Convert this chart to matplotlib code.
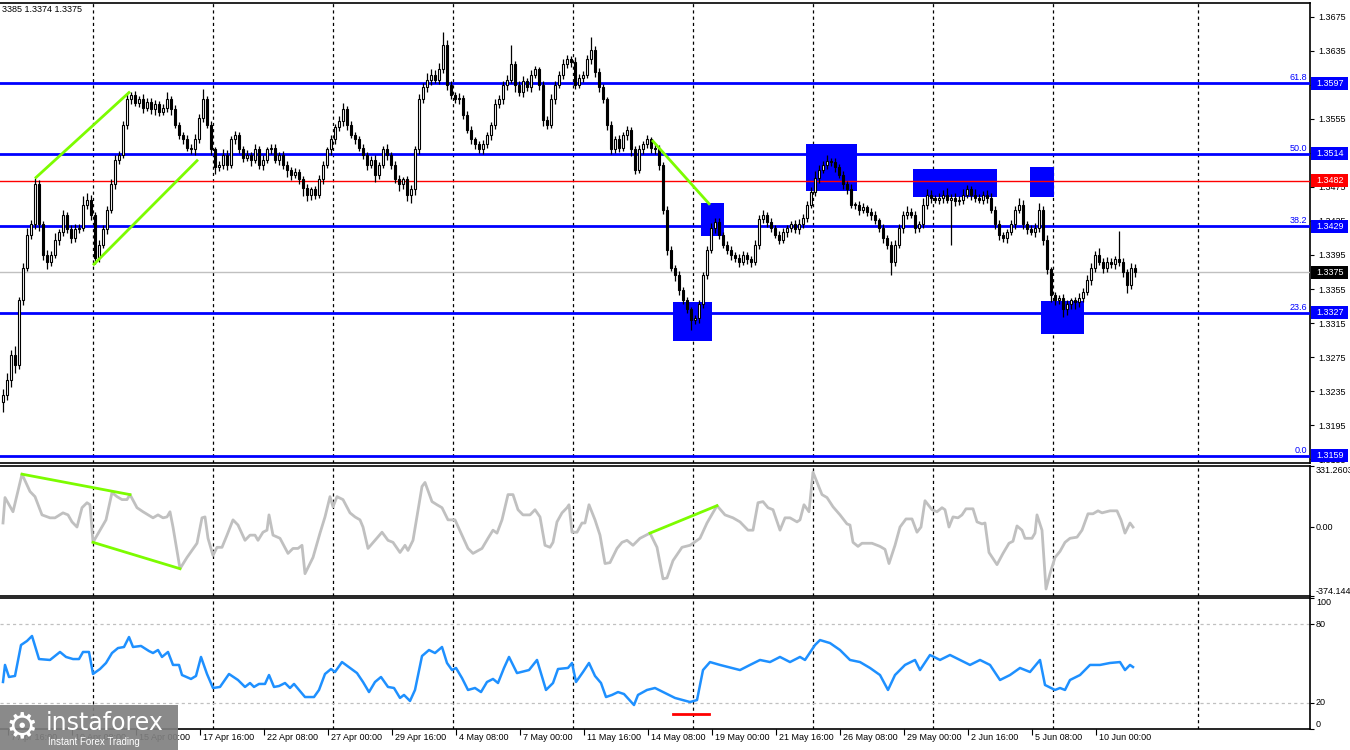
import matplotlib
matplotlib.use('Agg')
import matplotlib.pyplot as plt
from matplotlib.patches import Rectangle
from matplotlib.transforms import blended_transform_factory as btf, offset_copy
import numpy as np

plt.rcParams['font.family'] = ['Liberation Sans', 'DejaVu Sans']

# ---------------- data (prices in pips, 4H candles) ----------------
first_open = 13222
closes_pips = [
    13231, 13248, 13278, 13266, 13342, 13380, 13419, 13431, 13478, 13431,
    13395, 13387, 13395, 13413, 13422, 13442, 13425, 13415, 13425, 13427,
    13454, 13460, 13442, 13392, 13407, 13425, 13448, 13478, 13507, 13513,
    13548, 13578, 13583, 13574, 13578, 13568, 13575, 13566, 13572, 13563,
    13568, 13578, 13566, 13548, 13536, 13531, 13521, 13519, 13531, 13556,
    13578, 13548, 13519, 13498, 13501, 13513, 13501, 13531, 13536, 13519,
    13509, 13513, 13507, 13519, 13501, 13507, 13519, 13521, 13507, 13513,
    13501, 13495, 13489, 13493, 13484, 13474, 13466, 13472, 13466, 13484,
    13501, 13519, 13531, 13545, 13552, 13566, 13548, 13536, 13531, 13521,
    13513, 13501, 13507, 13489, 13501, 13519, 13513, 13501, 13484, 13478,
    13484, 13466, 13472, 13519, 13578, 13592, 13601, 13607, 13601, 13613,
    13642, 13595, 13583, 13578, 13580, 13560, 13542, 13531, 13525, 13519,
    13525, 13536, 13548, 13572, 13578, 13595, 13601, 13619, 13595, 13587,
    13599, 13592, 13607, 13613, 13595, 13554, 13548, 13578, 13595, 13607,
    13619, 13625, 13622, 13595, 13603, 13607, 13625, 13636, 13610, 13592,
    13578, 13548, 13519, 13531, 13521, 13536, 13542, 13519, 13495, 13519,
    13525, 13531, 13521, 13519, 13501, 13448, 13401, 13380, 13372, 13354,
    13342, 13331, 13319, 13321, 13337, 13372, 13401, 13427, 13434, 13419,
    13407, 13401, 13395, 13392, 13387, 13395, 13390, 13387, 13407, 13437,
    13442, 13434, 13427, 13419, 13413, 13422, 13427, 13431, 13425, 13431,
    13439, 13454, 13469, 13486, 13495, 13501, 13505, 13504, 13498, 13489,
    13478, 13472, 13454, 13454, 13448, 13451, 13446, 13442, 13436, 13427,
    13415, 13407, 13387, 13407, 13427, 13442, 13446, 13442, 13427, 13431,
    13454, 13466, 13462, 13460, 13462, 13466, 13460, 13462, 13458, 13460,
    13466, 13472, 13466, 13462, 13460, 13466, 13462, 13448, 13431, 13419,
    13415, 13422, 13431, 13448, 13454, 13431, 13425, 13422, 13427, 13448,
    13413, 13378, 13348, 13342, 13345, 13331, 13337, 13342, 13340, 13345,
    13352, 13366, 13380, 13395, 13387, 13380, 13387, 13384, 13390, 13387,
    13375, 13360, 13380, 13375,
]
# wick extension beyond the body (pips)
hi_ext = [
    6, 8, 5, 10, 4, 6, 8, 5, 8, 5,
    4, 6, 5, 8, 4, 6, 4, 5, 6, 4,
    10, 8, 5, 4, 6, 5, 4, 6, 5, 4,
    5, 6, 4, 5, 4, 6, 5, 4, 5, 4,
    5, 8, 4, 5, 3, 4, 5, 4, 6, 5,
    12, 4, 5, 3, 4, 6, 5, 4, 5, 3,
    4, 5, 3, 6, 4, 5, 3, 4, 5, 3,
    4, 5, 3, 4, 3, 4, 5, 3, 4, 5,
    4, 3, 5, 4, 6, 8, 4, 5, 3, 4,
    5, 3, 4, 5, 3, 4, 6, 3, 4, 5,
    3, 4, 5, 4, 6, 5, 8, 6, 5, 8,
    15, 6, 5, 4, 5, 3, 4, 5, 3, 4,
    5, 4, 3, 6, 5, 4, 5, 23, 4, 5,
    6, 4, 5, 4, 3, 5, 4, 6, 5, 4,
    6, 5, 4, 6, 5, 4, 5, 15, 4, 5,
    4, 3, 5, 4, 5, 4, 5, 3, 4, 5,
    4, 5, 3, 4, 5, 3, 4, 5, 3, 4,
    3, 4, 3, 4, 5, 3, 4, 6, 5, 4,
    3, 4, 5, 3, 4, 5, 3, 4, 6, 5,
    6, 4, 5, 3, 4, 5, 3, 4, 5, 6,
    4, 5, 6, 8, 6, 5, 8, 4, 5, 4,
    5, 4, 6, 3, 4, 5, 3, 4, 5, 3,
    4, 3, 5, 6, 4, 5, 6, 4, 5, 4,
    8, 6, 5, 4, 6, 5, 8, 5, 6, 4,
    6, 5, 4, 6, 5, 4, 5, 6, 4, 5,
    3, 4, 5, 4, 8, 6, 4, 5, 6, 8,
    4, 5, 3, 4, 3, 4, 5, 3, 4, 5,
    4, 5, 6, 5, 8, 4, 6, 5, 4, 33,
    5, 4, 6, 4,
]
lo_ext = [
    12, 6, 8, 10, 5, 6, 4, 5, 6, 8,
    6, 8, 5, 4, 6, 5, 4, 6, 5, 4,
    4, 5, 6, 8, 5, 4, 5, 4, 6, 5,
    4, 5, 6, 4, 5, 6, 4, 5, 6, 5,
    4, 5, 6, 4, 5, 6, 4, 5, 6, 4,
    5, 4, 6, 8, 4, 5, 6, 4, 5, 4,
    5, 4, 8, 4, 5, 6, 4, 5, 4, 6,
    5, 8, 6, 4, 5, 10, 8, 6, 5, 4,
    5, 4, 6, 5, 4, 5, 6, 4, 5, 4,
    5, 6, 4, 8, 5, 4, 6, 5, 4, 8,
    6, 8, 10, 6, 5, 4, 5, 6, 4, 5,
    4, 6, 5, 4, 6, 5, 4, 5, 6, 4,
    5, 4, 6, 5, 4, 5, 6, 4, 8, 5,
    6, 4, 5, 4, 6, 8, 5, 4, 5, 4,
    5, 4, 6, 5, 4, 5, 4, 5, 6, 5,
    4, 6, 5, 4, 5, 4, 6, 8, 5, 4,
    5, 4, 6, 5, 6, 5, 6, 4, 8, 6,
    5, 4, 12, 5, 6, 4, 5, 4, 6, 5,
    4, 5, 6, 5, 6, 4, 5, 6, 4, 5,
    4, 6, 5, 4, 5, 4, 6, 5, 4, 5,
    4, 5, 4, 5, 6, 4, 5, 4, 5, 4,
    6, 5, 4, 5, 6, 4, 5, 6, 4, 5,
    6, 5, 15, 5, 4, 6, 5, 4, 6, 5,
    4, 5, 6, 4, 5, 6, 4, 53, 5, 4,
    5, 4, 6, 5, 4, 5, 6, 4, 5, 6,
    5, 6, 4, 5, 4, 6, 5, 4, 6, 5,
    6, 5, 8, 6, 5, 9, 6, 5, 8, 6,
    5, 4, 6, 5, 4, 6, 5, 4, 6, 5,
    6, 10, 5, 6,
]

# CCI (candle index, value)
cci_t = [0, 0.5, 2.5, 4.75, 6.75, 8, 9.75, 11.75, 13, 15, 16.25, 17.25, 18.5, 19.75, 21, 21.75, 22.5,
         24.25, 25.75, 27.25, 28.5, 29.75, 31, 31.75, 33.5, 35, 37.5, 38.75, 40, 41, 41.75, 42.5, 44.25,
         46, 48.5, 49.75, 50.5, 51.25, 52.5, 53.5, 54.75, 56, 57.5, 58.75, 60.5, 61.75, 63, 63.75, 65, 66,
         66.5, 67.5, 69.25, 71.25, 72.5, 73.75, 74.75, 75.5, 77.5, 79.25, 80.5, 81.75, 82.5, 83.5, 85,
         86.75, 88, 89.25, 90, 91.25, 93, 94.75, 96.25, 97.5, 99.25, 100.5, 101.25, 102.5, 104.75, 105.5,
         107.25, 108.5, 109.75, 111.25, 113, 114.75, 116.25, 117.5, 119.75, 121.25, 122.5, 123.5, 124.75,
         126.25, 127.5, 128.75, 130, 131.75, 133, 134.25, 135.5, 136.75, 137.5, 138.5, 139.75, 141, 141.5,
         142.25, 143.5, 144.75, 145.5, 146.5, 148, 149.25, 150.5, 151.75, 153.5, 154.75, 156, 157.5, 159.25,
         161.75, 163.5, 165, 166, 167.5, 169.75, 171.75, 172.5, 174.25, 176, 178.5, 180.5, 182.5, 184.25,
         186.25, 187.5, 188.75, 190, 191.25, 192.5, 194.25, 195.5, 196.75, 198.5, 199.25, 200.25, 201.5,
         202.5, 204.75, 206, 207.5, 209.25, 211, 211.75, 212.5, 213.75, 214.75, 217.25, 219.25, 220.5,
         221.5, 223, 224.25, 225.75, 227.25, 228.5, 229.5, 230.5, 232.25, 233.5, 234.75, 235.5, 236.5,
         237.5, 238.75, 239.75, 240.75, 242.5, 243.5, 244.75, 245.5, 246.5, 248.5, 250, 251.5, 252.5,
         253.5, 254.75, 255.5, 257.25, 258, 258.5, 259.75, 260.75, 261.75, 263, 264.25, 265.5, 266.75,
         268.5, 269.75, 271.25, 272.5, 273.75, 274.75, 276.75, 278.5, 279.5, 280.5, 281.75, 282.5]
cci_v = [22, 160, 83, 287, 193, 165, 66, 50, 50, 77, 66, 28, 0, 105, 132, 121, -83,
         -17, 39, 187, 165, 149, 149, 176, 105, 83, 50, 66, 50, 55, 83, 0, -226,
         -165, -88, 50, 55, -61, -154, -110, -110, -44, 39, 11, -72, -44, -44, -72, -28, -17,
         66, -44, -61, -143, -116, -116, -99, -253, -165, -33, 55, 165, 110, 165, 149,
         77, 55, 39, 0, -116, -72, -28, -72, -83, -138, -99, -127, -72, 220, 242,
         138, 121, 105, 39, 39, -44, -116, -143, -116, -61, -17, -33, 39,
         176, 176, 94, 66, 66, 94, 55, -99, -110, -83, 28, 77, 105, 121,
         -28, -28, 22, 22, 121, 39, -44, -198, -193, -116, -83, -72, -99, -61,
         -33, -110, -281, -276, -182, -110, -99, -88, -61, 22, 116, 66, 50, 28,
         -17, -17, 132, 138, 105, 94, -17, 50, 50, 28, 39, 121, 83,
         298, 176, 160, 110, 66, 17, 11, -83, -105, -88, -88, -105, -121,
         -198, -99, 0, 44, 44, -28, 0, 143, 94, 83, 105, 94, 0,
         55, 50, 66, 99, 99, 28, 17, 22, -138, -204, -143, -88, -77,
         6, -17, -61, -61, -33, 66, -17, -336, -253, -165, -132, -83, -61,
         -55, -17, 72, 72, 88, 77, 88, 88, 39, -33, 22, 0]

# RSI (candle index, value)
rsi_t = [0, 0.5, 1.5, 3, 4.5, 6, 7.25, 9, 11.75, 14.25, 15.75, 17.5, 19, 20, 21.5, 22.5, 24.25, 25.75,
         27.25, 28.75, 30.25, 31.5, 32.5, 34.5, 36.5, 37.5, 38.75, 39.75, 41.25, 42.5, 44, 44.75, 47,
         48.25, 49.5, 51, 52.5, 54.25, 56.5, 58.75, 60.5, 61.75, 62.75, 64, 65.5, 66.5, 67.75, 69, 70.5,
         71.75, 72.75, 74, 75.5, 77.75, 79, 80.5, 82, 83, 84.75, 86.75, 88.5, 90, 91.5, 93, 94.5, 96.25,
         97.75, 99.25, 100.25, 101.75, 103, 104.75, 106.5, 108, 109.75, 111, 112.25, 113.25, 114.75,
         116.25, 118, 119.5, 121, 122.5, 123.75, 125.25, 126.5, 128.5, 131.5, 133.5, 135.75, 137.5,
         138.75, 141.25, 142.25, 143.25, 145, 146.5, 148, 149.5, 150.75, 152.25, 153.75, 155.25, 157.75,
         158.75, 161, 163, 165.5, 168, 171.75, 173.5, 175, 176.75, 179.25, 184.25, 186.75, 189.25,
         191.75, 194.25, 196.75, 199.25, 200.5, 203, 204.25, 206.75, 209.25, 211.75, 214.25, 216.75,
         219.25, 221.25, 223, 225.5, 228, 229.25, 231.75, 234.25, 236.75, 239.25, 241.75, 244.25,
         246.75, 249.25, 251.75, 254.25, 256.75, 259.25, 260.5, 263, 264.25, 265.5, 266.75, 269.25,
         271.75, 274.25, 276.75, 279.25, 280.5, 281.75, 282.5]
rsi_v = [35.9, 48.9, 39.7, 40.5, 64.1, 67.2, 71.0, 53.4, 52.7, 58.8, 55.0, 53.4, 53.4, 58.8, 58.8, 42.0,
         45.8, 50.4, 58.0, 61.8, 62.6, 70.2, 62.6, 63.4, 59.5, 58.0, 60.3, 55.0, 58.8, 48.9, 48.9, 41.2,
         38.2, 40.5, 55.0, 42.0, 31.3, 32.1, 42.0, 37.4, 32.1, 35.1, 32.1, 34.4, 34.4, 41.2, 32.1, 32.8,
         35.1, 31.3, 34.4, 29.8, 24.4, 24.4, 29.8, 42.0, 45.8, 43.5, 51.1, 46.6, 42.7, 35.9, 28.2, 35.9,
         39.7, 32.1, 31.3, 23.7, 26.0, 21.4, 29.8, 55.7, 60.3, 58.0, 62.6, 50.4, 45.0, 46.6, 38.9, 29.8,
         31.3, 28.2, 35.9, 38.2, 35.1, 46.6, 55.0, 42.7, 45.0, 52.7, 29.8, 35.1, 45.8, 46.6, 50.4, 35.9,
         43.5, 50.4, 40.5, 35.1, 24.4, 26.0, 28.2, 26.7, 18.3, 26.0, 29.8, 31.3, 27.5, 23.7, 20.6, 22.1,
         45.0, 51.1, 48.9, 45.0, 48.9, 52.7, 51.1, 55.0, 51.1, 55.0, 52.7, 64.1, 67.9, 65.6, 60.3, 52.7,
         51.1, 46.6, 41.2, 29.8, 41.2, 48.9, 52.7, 45.0, 56.5, 52.7, 56.5, 52.7, 48.9, 52.7, 48.9, 37.4,
         41.2, 46.6, 43.5, 52.7, 33.6, 29.8, 31.3, 29.8, 37.4, 41.2, 48.9, 48.9, 50.4, 51.1, 45.0, 48.9,
         47.3]

price_ticks = [1.3675, 1.3635, 1.3595, 1.3555, 1.3515, 1.3475, 1.3435, 1.3395, 1.3355,
               1.3315, 1.3275, 1.3235, 1.3195, 1.3155]
fib_levels = [1.3597, 1.3514, 1.3429, 1.3327, 1.3159]
fib_names = ['61.8', '50.0', '38.2', '23.6', '0.0']
red_level = 1.3482
last_price = 1.3375
cci_max, cci_min = 331.2603, -374.1446

x_labels = ['7 Apr 16:00', '10 Apr 08:00', '15 Apr 00:00', '17 Apr 16:00', '22 Apr 08:00',
            '27 Apr 00:00', '29 Apr 16:00', '4 May 08:00', '7 May 00:00', '11 May 16:00',
            '14 May 08:00', '19 May 00:00', '21 May 16:00', '26 May 08:00', '29 May 00:00',
            '2 Jun 16:00', '5 Jun 08:00', '10 Jun 00:00']
x_label_idx = [1.25 + 16 * k for k in range(len(x_labels))]
separators = [22.5, 52.5, 82.5, 112.5, 142.5, 172.5, 202.5, 232.5, 262.5, 298.75]

# annotation zones (t0, t1, price_lo, price_hi)
zones = [(174.5, 180.25, 1.3417, 1.3456), (167.5, 177.25, 1.3294, 1.3340),
         (200.75, 213.5, 1.3470, 1.3525), (227.5, 248.5, 1.3463, 1.3496),
         (256.75, 262.75, 1.3463, 1.3498), (259.5, 270.25, 1.3302, 1.3341)]
price_div = [((8, 1.3485), (31.75, 1.3587)), ((22.5, 1.3383), (48.75, 1.3507)),
             ((162.25, 1.3530), (176.75, 1.3454))]
cci_div = [((4.75, 287), (31.75, 176)), ((22.5, -83), (44.25, -226)),
           ((161.75, -33), (178.5, 116))]
rsi_mark = ((167.5, 176.5), 11.5)

# ---------------- figure ----------------
W, H = 1350, 750
fig = plt.figure(figsize=(W / 100, H / 100), dpi=100)
R = 1310


def add_ax(top, bottom):
    return fig.add_axes([0, 1 - bottom / H, R / W, (bottom - top) / H])


ax1 = add_ax(3, 463)
ax2 = add_ax(466, 596)
ax3 = add_ax(598, 729)

xmin, xmax = -0.75, (R - 3) / 4
FS = 6.5

for ax in (ax1, ax2, ax3):
    ax.set_xlim(xmin, xmax)
    ax.spines['left'].set_visible(False)
    for s in ('top', 'right', 'bottom'):
        ax.spines[s].set_linewidth(1.2)
        ax.spines[s].set_color('black')
    ax.yaxis.tick_right()
    ax.tick_params(axis='y', length=3, width=0.8, labelsize=FS, pad=3, colors='black')
    ax.set_xticks([])
    for s in separators:
        ax.axvline(s, color='black', lw=0.9, ls=(0, (2.5, 2.5)), zorder=1)

# ---- main price panel ----
n = min(len(closes_pips), len(hi_ext), len(lo_ext))
c = np.array(closes_pips[:n], dtype=float) / 10000
o = np.array([first_open] + closes_pips[:n - 1], dtype=float) / 10000
hi = np.maximum(o, c) + np.array(hi_ext[:n]) / 10000
lo = np.minimum(o, c) - np.array(lo_ext[:n]) / 10000
t = np.arange(n)

ax1.set_ylim(1.31506, 1.36911)
ax1.set_yticks(price_ticks)
ax1.set_yticklabels([f'{p:.4f}' for p in price_ticks])

for (t0, t1, p0, p1) in zones:
    ax1.add_patch(Rectangle((t0, p0), t1 - t0, p1 - p0, fc='#0000FF', ec='none', zorder=2))

for lvl in fib_levels:
    ax1.axhline(lvl, color='#0000FF', lw=2, zorder=3)
ax1.axhline(red_level, color='#FF0000', lw=1, zorder=3)
ax1.axhline(last_price, color='#C0C0C0', lw=1, zorder=3)

ax1.vlines(t, lo, hi, color='black', lw=0.9, zorder=4)
bull = c >= o
body_h = np.abs(c - o)
body_h = np.where(body_h < 0.00004, 0.00004, body_h)
ax1.bar(t, body_h, bottom=np.minimum(o, c), width=0.72,
        color=np.where(bull, 'white', 'black'), edgecolor='black', linewidth=0.8, zorder=5)

for (a, b) in price_div:
    ax1.plot([a[0], b[0]], [a[1], b[1]], color='#7CFC00', lw=2, zorder=6, solid_capstyle='butt')

tr_lbl = btf(ax1.transAxes, ax1.transData)
for lvl, name in zip(fib_levels, fib_names):
    ax1.text(1.0, lvl, name, transform=offset_copy(tr_lbl, fig=fig, x=-3, y=1, units='dots'),
             ha='right', va='bottom', fontsize=FS, color='#0000FF', zorder=7)

px = 0.0001175  # price per pixel


def tag(ax, y, s, fc, hpx):
    trb = btf(ax.transAxes, ax.transData)
    ax.add_patch(Rectangle((1311 / R, y - hpx / 2), 37 / R, hpx, transform=trb, fc=fc, ec='none',
                           clip_on=False, zorder=9))
    ax.text(1.0, y, s, transform=offset_copy(trb, fig=fig, x=6, y=0, units='dots'),
            ha='left', va='center', fontsize=FS, color='white', clip_on=False, zorder=10)


for lvl in fib_levels:
    tag(ax1, lvl, f'{lvl:.4f}', '#0000FF', 13 * px)
tag(ax1, red_level, f'{red_level:.4f}', '#FF0000', 13 * px)
tag(ax1, last_price, f'{last_price:.4f}', '#000000', 13 * px)

# ---- CCI panel ----
ax2.set_ylim(cci_min, cci_max)
ax2.set_yticks([cci_max, 0, cci_min])
ax2.set_yticklabels(['', '', ''])
ax2.plot(cci_t, cci_v, color='#C0C0C0', lw=2, zorder=4)
for (a, b) in cci_div:
    ax2.plot([a[0], b[0]], [a[1], b[1]], color='#7CFC00', lw=2, zorder=6)
tr2 = offset_copy(btf(ax2.transAxes, ax2.transData), fig=fig, x=6, y=0, units='dots')
ax2.text(1.0, cci_max, f'{cci_max:.4f}', transform=tr2, ha='left', va='top', fontsize=FS, clip_on=False)
ax2.text(1.0, 0, '0.00', transform=tr2, ha='left', va='center', fontsize=FS, clip_on=False)
ax2.text(1.0, cci_min, f'{cci_min:.4f}', transform=tr2, ha='left', va='bottom', fontsize=FS, clip_on=False)

# ---- RSI panel ----
ax3.set_ylim(0, 100)
ax3.set_yticks([100, 80, 20, 0])
ax3.set_yticklabels(['', '', '', ''])
for lv in (80, 20):
    ax3.axhline(lv, color='#C0C0C0', lw=0.9, ls=(0, (2.5, 2.5)), zorder=2)
ax3.plot(rsi_t, rsi_v, color='#1E90FF', lw=1.8, zorder=4)
ax3.plot(list(rsi_mark[0]), [rsi_mark[1]] * 2, color='#FF0000', lw=2, zorder=5)
tr3 = offset_copy(btf(ax3.transAxes, ax3.transData), fig=fig, x=6, y=0, units='dots')
ax3.text(1.0, 100, '100', transform=tr3, ha='left', va='top', fontsize=FS, clip_on=False)
ax3.text(1.0, 80, '80', transform=tr3, ha='left', va='center', fontsize=FS, clip_on=False)
ax3.text(1.0, 20, '20', transform=tr3, ha='left', va='center', fontsize=FS, clip_on=False)
ax3.text(1.0, 0, '0', transform=tr3, ha='left', va='bottom', fontsize=FS, clip_on=False)

# x axis labels
ax3.set_xticks(x_label_idx)
ax3.set_xticklabels([''] * len(x_label_idx))
ax3.tick_params(axis='x', length=4, width=0.8, direction='out')
trx = offset_copy(btf(ax3.transData, ax3.transAxes), fig=fig, x=3, y=-9, units='dots')
for xi, lab in zip(x_label_idx, x_labels):
    ax3.text(xi, 0, lab, transform=trx, ha='left', va='center', fontsize=FS, clip_on=False)

# top-left header text
fig.text(2 / W, 1 - 10 / H, '3385 1.3374 1.3375', ha='left', va='center', fontsize=FS)

# watermark logo
fig.patches.append(Rectangle((0, 0), 178 / W, 45 / H, transform=fig.transFigure,
                             fc='#808080', ec='none', alpha=0.92, zorder=20))
fig.text(22 / W, 1 - 727 / H, '\u2699', family='DejaVu Sans', fontsize=26, color='white',
         ha='center', va='center', zorder=21)
fig.text(46 / W, 1 - 723 / H, 'instaforex', family='DejaVu Sans', fontsize=17, color='white',
         ha='left', va='center', zorder=21)
fig.text(48 / W, 1 - 742 / H, 'Instant Forex Trading', fontsize=7, color='white',
         ha='left', va='center', zorder=21)

fig.savefig('out.png', dpi=100)
